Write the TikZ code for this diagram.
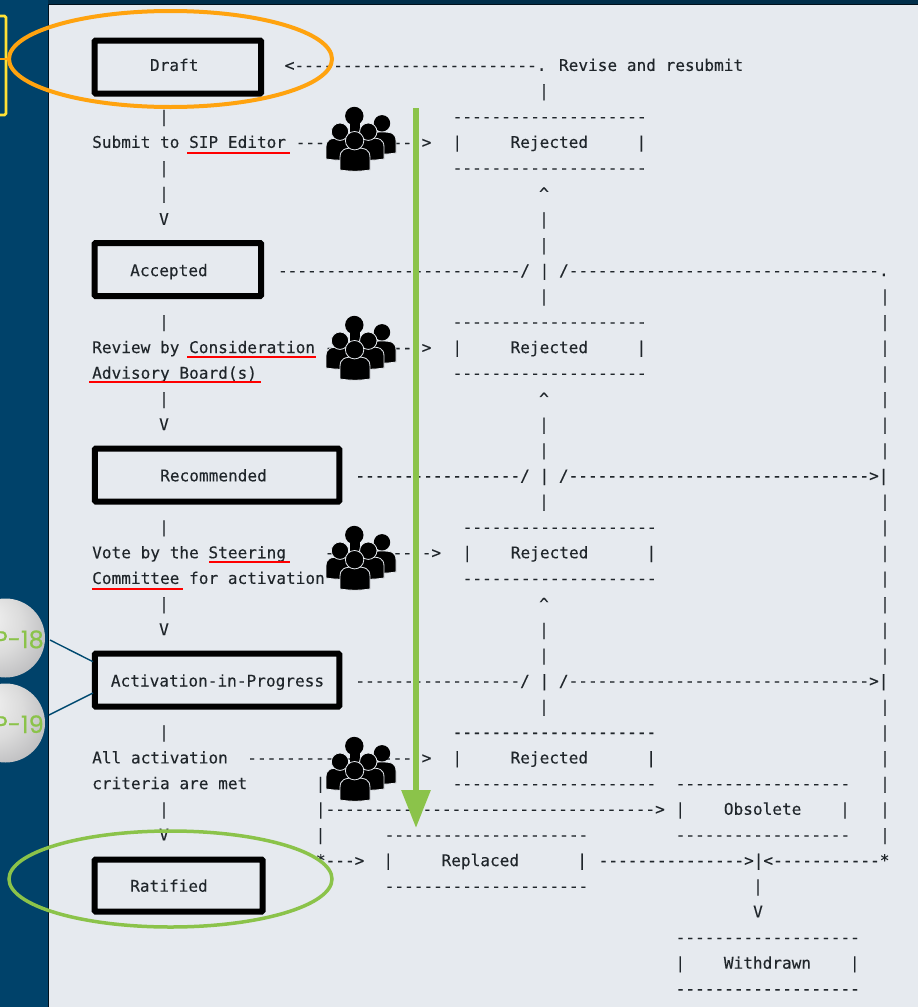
\documentclass[tikz,border=0pt]{standalone}
\usepackage{fontspec}
\setmonofont[FakeBold=0.12]{DejaVu Sans Mono}
\newfontfamily\sipfont[FakeBold=0.6]{Poppins}
\usetikzlibrary{arrows.meta,shapes.geometric}
\definecolor{navy}{HTML}{00426A}
\definecolor{panel}{HTML}{E6EAEF}
\definecolor{inkc}{HTML}{20262B}
\definecolor{orangec}{HTML}{FFA30F}
\definecolor{greenc}{HTML}{8BC34A}
\definecolor{yellowc}{HTML}{FFE135}
\definecolor{linkc}{HTML}{004A70}
\pgfdeclareradialshading{ballgrey}{\pgfpoint{-14bp}{14bp}}{rgb(0bp)=(0.96,0.96,0.96);rgb(20bp)=(0.86,0.86,0.86);rgb(40bp)=(0.70,0.70,0.71);rgb(60bp)=(0.50,0.50,0.51)}
\newcounter{ctx}
\tikzset{
  asc/.style={inkc,font=\ttfamily\fontsize{16.1}{16.1}\selectfont,inner sep=0pt,anchor=base west},
  ascc/.style={asc,anchor=base},
  statebox/.style={draw=black,line width=6pt,rounded corners=1pt,inner sep=0pt},
  redline/.style={draw=red,line width=1.8pt},
  sipball/.style={circle,shading=ballgrey,inner sep=0pt,minimum size=79pt},
  siplabel/.style={greenc,font=\sipfont\fontsize{24}{24}\selectfont,inner sep=0pt,anchor=base east},
  link/.style={draw=linkc,line width=1.4pt},
  crowdcut/.style={fill=black,draw=panel,line width=0.8pt}
}
\newcommand{\tx}[3]{\stepcounter{ctx}\node[asc] (t\arabic{ctx}) at ({#1},{70.9+25.65*#2}) {#3};}
\newcommand{\cc}[3]{\stepcounter{ctx}\node[ascc] (t\arabic{ctx}) at ({#1},{70.9+25.65*#2}) {#3};}
\newcommand{\bust}[5][]{%
  \path[#1] (#2,#5) -- (#2,{#4+0.45*(#5-#4)})
    .. controls (#2,{#4+0.05*(#5-#4)}) and ({#2+0.16*(#3-#2)},#4) .. ({0.5*(#2+#3)},#4)
    .. controls ({#3-0.16*(#3-#2)},#4) and (#3,{#4+0.05*(#5-#4)}) .. (#3,{#4+0.45*(#5-#4)})
    -- (#3,#5) .. controls ({0.5*(#2+#3)+4},{#5+1.6}) and ({0.5*(#2+#3)-4},{#5+1.6}) .. cycle;}
\newcommand{\crowd}[2]{%
  \begin{scope}[shift={(#1,#2)}]
    \bust[crowdcut]{42}{70}{25}{46}
    \fill (56,16.3) circle (8.2);
    \fill (23.5,16) rectangle (33.5,27);
    \fill (28.3,9) circle (9.2);
    \bust[crowdcut]{0}{29}{31}{52}
    \bust[crowdcut]{29}{58}{31}{52}
    \path[crowdcut] (14,24.7) circle (8.7);
    \path[crowdcut] (42.3,24.7) circle (8.7);
    \bust[crowdcut]{14}{44}{41}{63}
    \path[crowdcut] (28.6,33.7) circle (9.2);
  \end{scope}}
\begin{document}
\begin{tikzpicture}[x=1pt,y=-1pt]
\useasboundingbox (0,0) rectangle (918,1007);
\clip (0,0) rectangle (918,1007);
\fill[navy] (0,0) rectangle (918,1007);
\fill[navy!70!black] (48,0) rectangle (918,5);
\path[fill=panel,draw=black!75!navy,line width=1pt] (48.5,4.5) rectangle (930,1020);
% left strip
\path[draw=yellowc,line width=2.6pt,rounded corners=1.5pt] (-10,16) -- (6,16) -- (6,115) -- (-10,115);
% state boxes
\node[statebox,minimum width=166.5pt,minimum height=53pt] (draftbox) at (177.9,67) {};
\node[statebox,minimum width=166.5pt,minimum height=53pt] (acceptedbox) at (177.9,269.5) {};
\node[statebox,minimum width=244.5pt,minimum height=53pt] (recommendedbox) at (217,475) {};
\node[statebox,minimum width=244.5pt,minimum height=53pt] (activationbox) at (217,680) {};
\node[statebox,minimum width=168pt,minimum height=52pt] (ratifiedbox) at (178.7,885.5) {};
% balls
\node[sipball] (sipa) at (5.5,638) {};
\node[sipball] (sipb) at (5.5,723) {};
\node[siplabel] (sipatext) at (44,648) {SIP-18};
\node[siplabel] (sipbtext) at (44,733) {SIP-19};
\coordinate (sipaout) at (50,640);
\coordinate (sipbout) at (49,715);
\coordinate (actin) at (93,661.7);
\coordinate (actinb) at (93,693);
\draw[link] (sipaout) -- (actin);
\draw[link] (sipbout) -- (actinb);
% --- left column text
\tx{149.8}{0}{Draft}
\tx{284.6}{0}{<-------------------------.}
\tx{558.8}{0}{Revise~and~resubmit}
\tx{92}{3}{Submit~to~SIP~Editor~------------->}
\tx{130}{8}{Accepted}
\tx{92}{11}{Review~by~Consideration~---------->}
\tx{92}{12}{Advisory~Board(s)}
\tx{160}{16}{Recommended}
\tx{92}{19}{Vote~by~the~Steering~~~~-----------{>}}
\tx{92}{20}{Committee~for~activation}
\tx{110.7}{24}{Activation-in-Progress}
\tx{92}{27}{All~activation~~------------------>}
\tx{92}{28}{criteria~are~met}
\tx{130}{32}{Ratified}
% --- centre-left vertical
\foreach \r/\c in {2/|,4/|,5/|,6/V,10/|,13/|,14/V,18/|,21/|,22/V,26/|,29/|,30/V}{\cc{164}{\r}{\c}}
% --- Rejected boxes
\foreach \r in {2,4,10,12}{\tx{452.5}{\r}{--------------------}}
\tx{452.2}{3}{|~~~~~Rejected~~~~~|}
\tx{452.2}{11}{|~~~~~Rejected~~~~~|}
\tx{462.5}{18}{--------------------}
\tx{462.2}{19}{|~~~~Rejected~~~~~~|}
\tx{462.5}{20}{--------------------}
\tx{452.5}{26}{---------------------}
\tx{452.2}{27}{|~~~~~Rejected~~~~~~|}
\tx{452.5}{28}{---------------------}
% --- centre vertical
\foreach \r/\c in {1/|,5/\textasciicircum,6/|,7/|,9/|,13/\textasciicircum,14/|,15/|,17/|,21/\textasciicircum,22/|,23/|,25/|}{\cc{544}{\r}{\c}}
% --- long horizontal lines
\tx{277.8}{8}{-------------------------/~|~/--------------------------------.}
\tx{355.2}{16}{-----------------/~|~/------------------------------->|}
\tx{355.2}{24}{-----------------/~|~/------------------------------->|}
% --- right vertical
\foreach \r in {9,10,11,12,13,14,15,17,18,19,20,21,22,23,25,26,27,28,29,30}{\cc{885}{\r}{|}}
% --- bottom part
\foreach \r in {28,30}{\cc{320.5}{\r}{|}}
\tx{315.7}{29}{|---------------------------------->}
\tx{315.7}{31}{*--->}
\tx{384.5}{30}{---------------------}
\tx{383.2}{31}{|~~~~~Replaced~~~~~~|}
\tx{384.5}{32}{---------------------}
\tx{598.5}{31}{--------------->|<-----------*}
\tx{675.5}{28}{------------------}
\tx{675.2}{29}{|~~~~Obsolete~~~~|}
\tx{675.5}{30}{------------------}
\cc{758}{32}{|}
\cc{758}{33}{V}
\tx{675.5}{34}{-------------------}
\tx{675.2}{35}{|~~~~Withdrawn~~~~|}
\tx{675.5}{36}{-------------------}
% --- red underlines
\draw[redline] (187,152.7) -- (290,152.7);
\draw[redline] (187,357.3) -- (316,357.3);
\draw[redline] (89,382) -- (260.5,382);
\draw[redline] (209,562) -- (290,562);
\draw[redline] (92,588.7) -- (183,588.7);
% --- crowds
\crowd{326}{107}
\crowd{326}{316}
\crowd{326}{526}
\crowd{326}{737}
% --- ellipses and arrow
\node[ellipse,draw=orangec,line width=4pt,minimum width=323pt,minimum height=96pt,inner sep=0pt] (draftring) at (170.5,59) {};
\node[ellipse,draw=greenc,line width=3.5pt,minimum width=323pt,minimum height=96pt,inner sep=0pt] (ratifiedring) at (170.5,879) {};
\coordinate (flowstart) at (416,108);
\coordinate (flowend) at (416,828);
\draw[greenc,line width=6pt,-{Triangle[length=38pt,width=28pt]}] (flowstart) -- (flowend);
% orange link into yellow strip
\coordinate (striplink) at (0,59);
\draw[orangec,line width=1.5pt] (striplink) -- (draftring.west);
\end{tikzpicture}
\end{document}
